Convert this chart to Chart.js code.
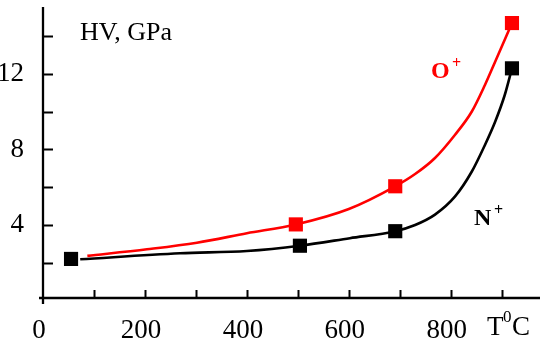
<!DOCTYPE html>
<html>
<head>
<meta charset="utf-8">
<script src="https://cdn.jsdelivr.net/npm/chart.js@4/dist/chart.umd.min.js"></script>
<style>
  html, body { margin: 0; padding: 0; background: #fff; }
  #wrap { width: 541px; height: 343px; position: relative; }
</style>
</head>
<body>
<div id="wrap"><canvas id="hvChart"></canvas></div>
<script>
// ─── Data ─────────────────────────────────────────────────
const xTicks = [0, 100, 200, 300, 400, 500, 600, 700, 800, 900];
const xLabelled = [0, 200, 400, 600, 800];
const yTicks = [2, 4, 6, 8, 10, 12, 14];
const yLabelled = [4, 8, 12];

// measured points (squares)
const nPoints = [[55, 2.2], [504, 2.9], [691, 3.67], [920, 12.3]];
const oPoints = [[496, 4.03], [691, 6.05], [920, 14.7]];

// fitted curves as drawn in the figure
const nCurve = [[73, 2.18], [269, 2.5], [400, 2.62], [504, 2.9], [602, 3.3], [691, 3.67],
  [730, 4.0], [769, 4.55], [808, 5.5], [841, 6.82], [867, 8.24], [887, 9.47], [906, 10.9], [920, 12.3]];
const oCurve = [[87, 2.36], [204, 2.71], [302, 3.06], [400, 3.56], [496, 4.03], [600, 4.85], [691, 6.05],
  [730, 6.7], [769, 7.55], [808, 8.77], [841, 10.0], [867, 11.42], [887, 12.65], [920, 14.7]];

const xy = arr => arr.map(([x, y]) => ({ x, y }));
const SERIF = '"Liberation Serif", "Times New Roman", serif';

// kill the auto padding Chart.js adds for end labels
const noPad = s => { s.paddingTop = 0; s.paddingBottom = 0; s.paddingLeft = 0; s.paddingRight = 0; };

// ─── Axes + annotations drawn on top ──────────────────────
const axesPlugin = {
  id: 'axesPlugin',
  afterDraw(chart) {
    const { ctx, chartArea: a, scales: { x, y } } = chart;
    ctx.save();
    ctx.strokeStyle = '#000';
    ctx.lineWidth = 2.3;
    ctx.beginPath();
    ctx.moveTo(a.left, a.top);
    ctx.lineTo(a.left, a.bottom + 6);
    ctx.moveTo(a.left - 4, a.bottom);
    ctx.lineTo(a.right, a.bottom);
    ctx.stroke();

    ctx.lineWidth = 2;
    ctx.beginPath();
    xTicks.filter(v => v > 0).forEach(v => {
      const px = Math.round(x.getPixelForValue(v)) + 0.5;
      ctx.moveTo(px, a.bottom);
      ctx.lineTo(px, a.bottom - 8);
    });
    yTicks.forEach(v => {
      const py = Math.round(y.getPixelForValue(v)) + 0.5;
      ctx.moveTo(a.left, py);
      ctx.lineTo(a.left + 10, py);
    });
    ctx.stroke();

    ctx.textBaseline = 'alphabetic';
    ctx.textAlign = 'left';
    ctx.fillStyle = '#000';
    ctx.font = `26px ${SERIF}`;
    ctx.fillText('HV, GPa', 80, 40);

    // T °C
    ctx.font = `27px ${SERIF}`;
    ctx.fillText('T', 487, 335);
    ctx.fillText('C', 512, 335);
    ctx.font = `17px ${SERIF}`;
    ctx.fillText('0', 503, 322);

    // ion labels
    ctx.fillStyle = '#ff0000';
    ctx.font = `bold 24px ${SERIF}`;
    ctx.fillText('O', 431, 78);
    ctx.font = `bold 16px ${SERIF}`;
    ctx.fillText('+', 452, 68);

    ctx.fillStyle = '#000';
    ctx.font = `bold 24px ${SERIF}`;
    ctx.fillText('N', 474, 225);
    ctx.font = `bold 16px ${SERIF}`;
    ctx.fillText('+', 494, 215);
    ctx.restore();
  }
};

new Chart(document.getElementById('hvChart'), {
  type: 'scatter',
  data: {
    datasets: [
      {
        label: 'O+ points', data: xy(oPoints), order: 0,
        pointStyle: 'rect', pointRadius: 10, pointBackgroundColor: '#ff0000',
        pointBorderColor: '#ff0000', pointBorderWidth: 0, showLine: false,
      },
      {
        label: 'N+ points', data: xy(nPoints), order: 1,
        pointStyle: 'rect', pointRadius: 10, pointBackgroundColor: '#000',
        pointBorderColor: '#000', pointBorderWidth: 0, showLine: false,
      },
      {
        label: 'O+', data: xy(oCurve), order: 2, showLine: true,
        borderColor: '#ff0000', borderWidth: 2.6, pointRadius: 0,
        cubicInterpolationMode: 'monotone',
      },
      {
        label: 'N+', data: xy(nCurve), order: 3, showLine: true,
        borderColor: '#000', borderWidth: 2.6, pointRadius: 0,
        cubicInterpolationMode: 'monotone',
      },
    ],
  },
  options: {
    responsive: true,
    maintainAspectRatio: false,
    animation: false,
    clip: false,
    layout: { autoPadding: false, padding: { top: 7, right: 1, left: 0, bottom: 0 } },
    plugins: { legend: { display: false }, tooltip: { enabled: false } },
    scales: {
      x: {
        type: 'linear', min: 0, max: 975,
        border: { display: false },
        grid: { display: false },
        afterBuildTicks: s => { s.ticks = xTicks.map(v => ({ value: v })); },
        afterFit: s => { s.height = 45; noPad(s); },
        ticks: {
          autoSkip: false, maxRotation: 0, padding: 9, labelOffset: -4, color: '#000',
          font: { family: SERIF, size: 27 },
          callback: v => xLabelled.includes(v) ? String(v) : '',
        },
      },
      y: {
        type: 'linear', min: 0.13, max: 15.55,
        border: { display: false },
        grid: { display: false },
        afterBuildTicks: s => { s.ticks = yTicks.map(v => ({ value: v })); },
        afterFit: s => { s.width = 43; noPad(s); },
        ticks: {
          autoSkip: false, padding: 11, color: '#000',
          font: { family: SERIF, size: 27 },
          callback: v => yLabelled.includes(v) ? String(v) : '',
        },
      },
    },
  },
  plugins: [axesPlugin],
});
</script>
</body>
</html>
